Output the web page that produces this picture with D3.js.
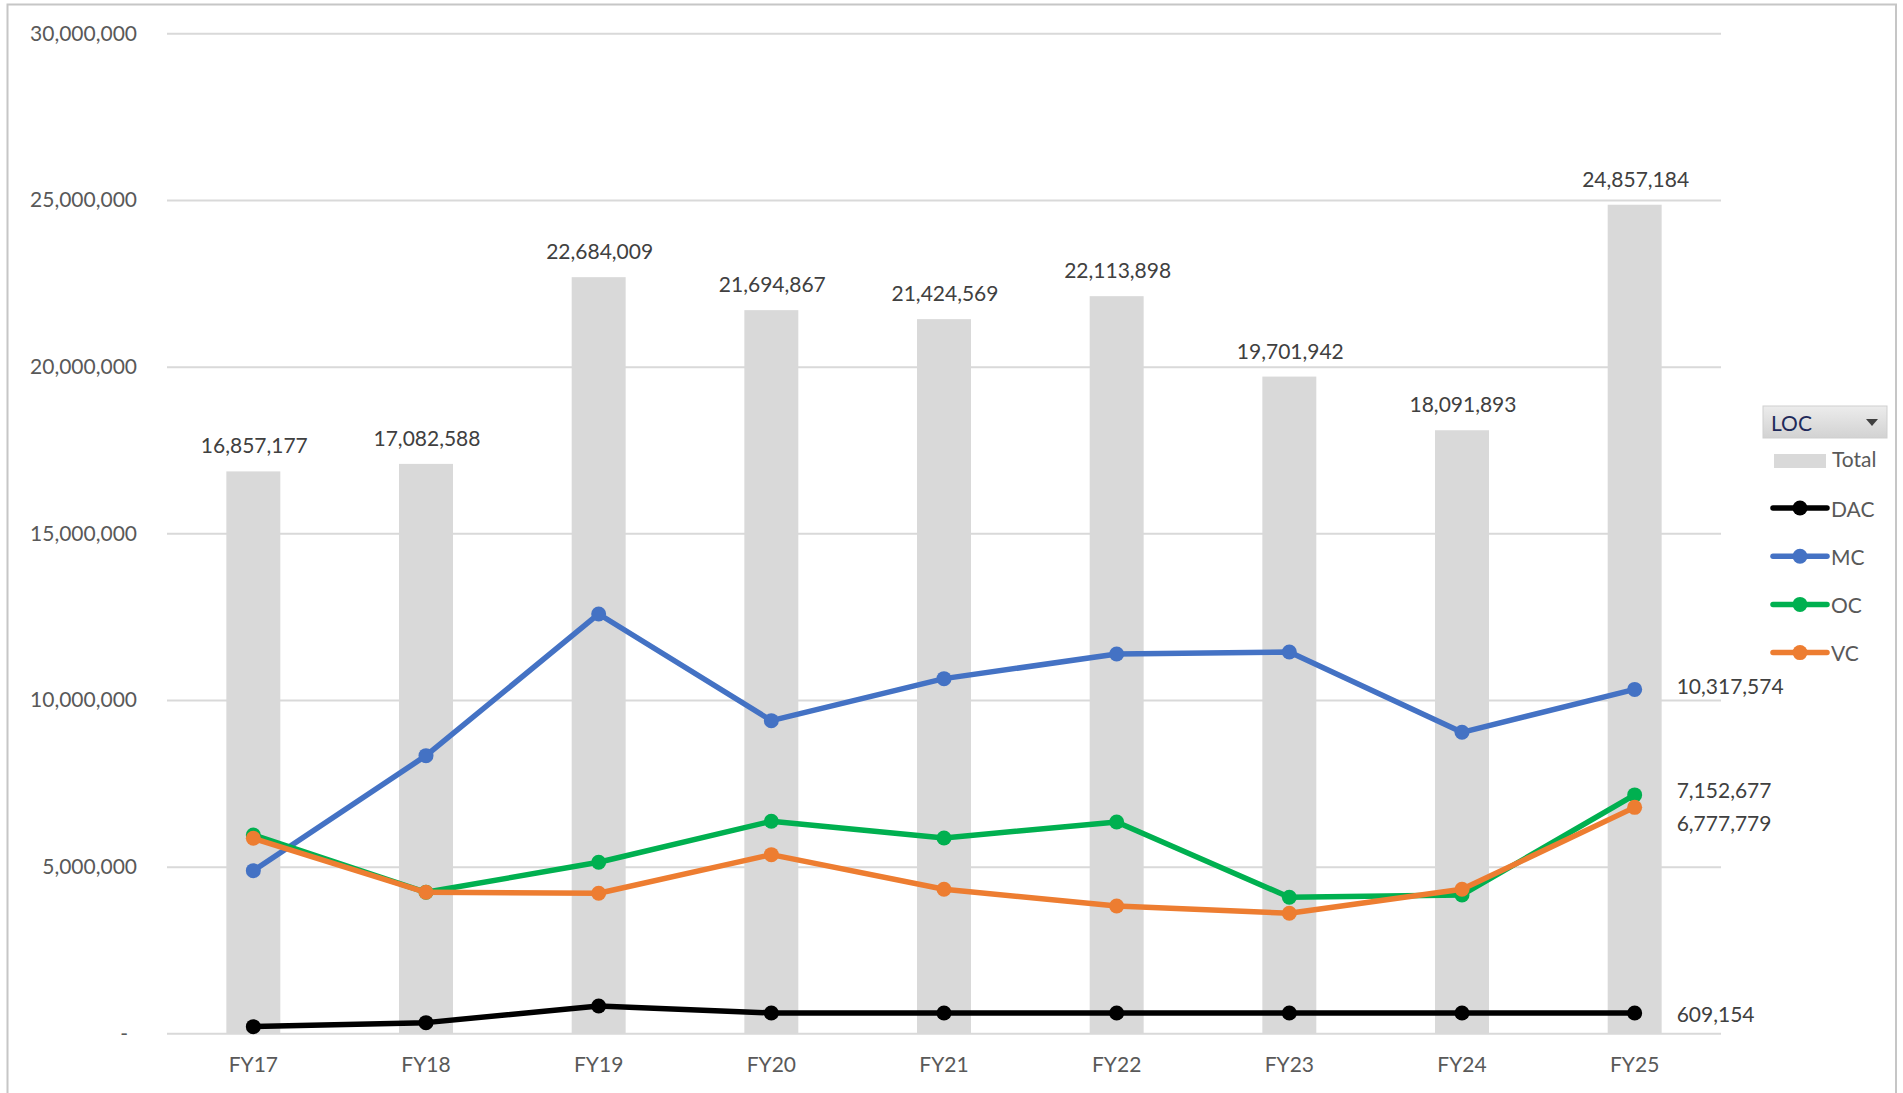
<!DOCTYPE html>
<html>
<head>
<meta charset="utf-8">
<script src="https://cdn.jsdelivr.net/npm/d3@7"></script>
<style>
  html, body { margin: 0; padding: 0; background: #ffffff; }
  svg { display: block; font-family: Lato, "Open Sans", sans-serif; }
</style>
</head>
<body>
<svg id="chart" width="1903" height="1093"></svg>
<script>
// ---- data ----
const categories = ["FY17", "FY18", "FY19", "FY20", "FY21", "FY22", "FY23", "FY24", "FY25"];
const totalValues = [16857177, 17082588, 22684009, 21694867, 21424569, 22113898, 19701942, 18091893, 24857184];
const dacValues = [200000, 320000, 820000, 609154, 609154, 609154, 609154, 609154, 609154];
const mcValues  = [4880000, 8330000, 12580000, 9380000, 10640000, 11380000, 11440000, 9030000, 10317574];
const ocValues  = [5950000, 4230000, 5130000, 6360000, 5860000, 6340000, 4080000, 4150000, 7152677];
const vcValues  = [5850000, 4230000, 4200000, 5360000, 4320000, 3820000, 3600000, 4320000, 6777779];
const yTickValues = [0, 5000000, 10000000, 15000000, 20000000, 25000000, 30000000];
const seriesNames = ["DAC", "MC", "OC", "VC"];
const seriesColors = { DAC: "#000000", MC: "#4472C4", OC: "#00B050", VC: "#ED7D31" };
const legendTitle = "LOC";
const totalName = "Total";

const seriesData = { DAC: dacValues, MC: mcValues, OC: ocValues, VC: vcValues };

// ---- layout ----
const svg = d3.select("#chart");
const plot = { left: 167, right: 1721, top: 33.3, bottom: 1033.3 };
const fmt = d3.format(",");

// outer frame
svg.append("rect")
  .attr("x", 7.5).attr("y", 4.5)
  .attr("width", 1896 - 7.5).attr("height", 1120)
  .attr("fill", "#ffffff").attr("stroke", "#c6c6c6").attr("stroke-width", 2);

const x = d3.scaleBand().domain(categories).range([plot.left, plot.right]).paddingInner(0).paddingOuter(0);
const y = d3.scaleLinear().domain([0, 30000000]).range([plot.bottom, plot.top]);
const cx = c => x(c) + x.bandwidth() / 2;

// gridlines
const grid = svg.append("g").attr("transform", `translate(${plot.left},0)`)
  .call(d3.axisLeft(y).tickValues(yTickValues).tickSize(-(plot.right - plot.left)).tickFormat(""));
grid.select(".domain").remove();
grid.selectAll("line").attr("stroke", "#d9d9d9").attr("stroke-width", 2);

// y axis labels
const yAxis = svg.append("g").attr("transform", `translate(${plot.left},0)`)
  .call(d3.axisLeft(y).tickValues(yTickValues).tickSize(0).tickPadding(30)
    .tickFormat(d => d === 0 ? "-" : fmt(d)));
yAxis.select(".domain").remove();
yAxis.selectAll("text").attr("fill", "#595959").attr("font-size", 21)
  .attr("font-family", "Lato, 'Open Sans', sans-serif");
yAxis.selectAll(".tick").filter(d => d === 0).select("text").attr("x", -39);

// bars
const barW = x.bandwidth() * 0.3125;
svg.append("g").selectAll("rect").data(categories).join("rect")
  .attr("x", (c) => cx(c) - barW / 2)
  .attr("y", (c, i) => y(totalValues[i]))
  .attr("width", barW)
  .attr("height", (c, i) => y(0) - y(totalValues[i]))
  .attr("fill", "#d9d9d9");

// bar labels
svg.append("g").selectAll("text").data(categories).join("text")
  .attr("x", c => cx(c) + 1)
  .attr("y", (c, i) => y(totalValues[i]) - 18)
  .attr("text-anchor", "middle")
  .attr("font-size", 21)
  .attr("fill", "#404040")
  .text((c, i) => fmt(totalValues[i]));

// x axis labels
const xAxis = svg.append("g").attr("transform", `translate(0,${plot.bottom})`)
  .call(d3.axisBottom(x).tickSize(0).tickPadding(24));
xAxis.select(".domain").remove();
xAxis.selectAll("text").attr("fill", "#595959").attr("font-size", 21)
  .attr("font-family", "Lato, 'Open Sans', sans-serif");

// lines
const line = d3.line().x((v, i) => cx(categories[i])).y(v => y(v));
seriesNames.forEach(name => {
  const vals = seriesData[name];
  const g = svg.append("g");
  g.append("path").datum(vals).attr("d", line)
    .attr("fill", "none").attr("stroke", seriesColors[name])
    .attr("stroke-width", 5.5).attr("stroke-linejoin", "round").attr("stroke-linecap", "round");
  g.selectAll("circle").data(vals).join("circle")
    .attr("cx", (v, i) => cx(categories[i])).attr("cy", v => y(v))
    .attr("r", 7.5).attr("fill", seriesColors[name]);
});

// end labels (last point)
const endOffsets = { DAC: 1, MC: -4, OC: -5, VC: 15 };
["MC", "OC", "VC", "DAC"].forEach(name => {
  const vals = seriesData[name];
  const last = vals[vals.length - 1];
  svg.append("text")
    .attr("x", cx(categories[categories.length - 1]) + 42)
    .attr("y", y(last) + endOffsets[name])
    .attr("dominant-baseline", "central")
    .attr("font-size", 21)
    .attr("fill", "#404040")
    .text(fmt(last));
});

// legend
const lg = svg.append("g");
const grad = svg.append("defs").append("linearGradient").attr("id", "btn")
  .attr("x1", 0).attr("y1", 0).attr("x2", 0).attr("y2", 1);
grad.append("stop").attr("offset", "0%").attr("stop-color", "#ececec");
grad.append("stop").attr("offset", "100%").attr("stop-color", "#d2d2d2");
lg.append("rect").attr("x", 1763).attr("y", 406).attr("width", 124).attr("height", 32)
  .attr("fill", "url(#btn)").attr("stroke", "#cfcfcf");
lg.append("text").attr("x", 1771).attr("y", 422).attr("dominant-baseline", "central")
  .attr("font-size", 21).attr("fill", "#1f2a5a").text(legendTitle);
lg.append("path").attr("d", "M1866,419 L1878,419 L1872,426 Z").attr("fill", "#404040");

lg.append("rect").attr("x", 1774).attr("y", 454).attr("width", 52).attr("height", 14).attr("fill", "#d9d9d9");
lg.append("text").attr("x", 1832).attr("y", 458).attr("dominant-baseline", "central")
  .attr("font-size", 21).attr("fill", "#595959").text(totalName);

seriesNames.forEach((name, i) => {
  const ly = 508 + i * 48.2;
  lg.append("line").attr("x1", 1773).attr("x2", 1827).attr("y1", ly).attr("y2", ly)
    .attr("stroke", seriesColors[name]).attr("stroke-width", 5.5).attr("stroke-linecap", "round");
  lg.append("circle").attr("cx", 1800).attr("cy", ly).attr("r", 7.5).attr("fill", seriesColors[name]);
  lg.append("text").attr("x", 1831).attr("y", ly).attr("dominant-baseline", "central")
    .attr("font-size", 21).attr("fill", "#595959").text(name);
});
</script>
</body>
</html>
